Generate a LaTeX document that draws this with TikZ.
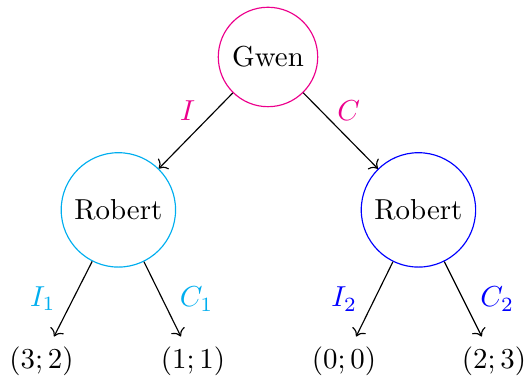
\documentclass[tikz,border=0pt]{standalone}
\usepackage{amsmath, amssymb}
\usepackage{tikz}
\usetikzlibrary{positioning, arrows.meta}
\usepackage{xcolor}
\definecolor{gwencol}{RGB}{236,0,140}
\definecolor{robcolA}{RGB}{0,174,239}
\definecolor{robcolB}{RGB}{0,0,255}

\begin{document}
\begin{tikzpicture}[
  P/.style={draw, circle},
  Pg/.style={P, draw=gwencol},
  Pa/.style={P, draw=robcolA},
  Pb/.style={P, draw=robcolB},
  pay/.style={inner sep=3.33pt},
  arr/.style={->},
]
\useasboundingbox (-3.26,-3.905) rectangle (3.114,0.693);

%% ---- Gwen (y = 0) ----
\node[Pg] (gwen) at (0,0) {Gwen};

%% ---- Robert row (y = -1.86) ----
\node[Pa] (robA) at (-1.82,-1.86) {Robert};
\node[Pb] (robB) at ( 1.83,-1.86) {Robert};

\draw[arr] (gwen) -- node[midway, above, xshift=-1mm, gwencol]{$I$} (robA);
\draw[arr] (gwen) -- node[midway, above, xshift=1mm, gwencol]{$C$} (robB);

%% ---- Payoff row (y = -3.70) ----
\node[pay] (p1) at (-2.755,-3.70) {$(3;2)$};
\node[pay] (p2) at (-0.912,-3.70) {$(1;1)$};
\node[pay] (p3) at ( 0.925,-3.70) {$(0;0)$};
\node[pay] (p4) at ( 2.75, -3.70) {$(2;3)$};

\draw[arr] (robA) -- node[midway, left=2.5pt, robcolA]{$I_1$} (p1);
\draw[arr] (robA) -- node[midway, right=2.5pt, robcolA]{$C_1$} (p2);
\draw[arr] (robB) -- node[midway, left=2.5pt, robcolB]{$I_2$} (p3);
\draw[arr] (robB) -- node[midway, right=2.5pt, robcolB]{$C_2$} (p4);

\end{tikzpicture}
\end{document}
